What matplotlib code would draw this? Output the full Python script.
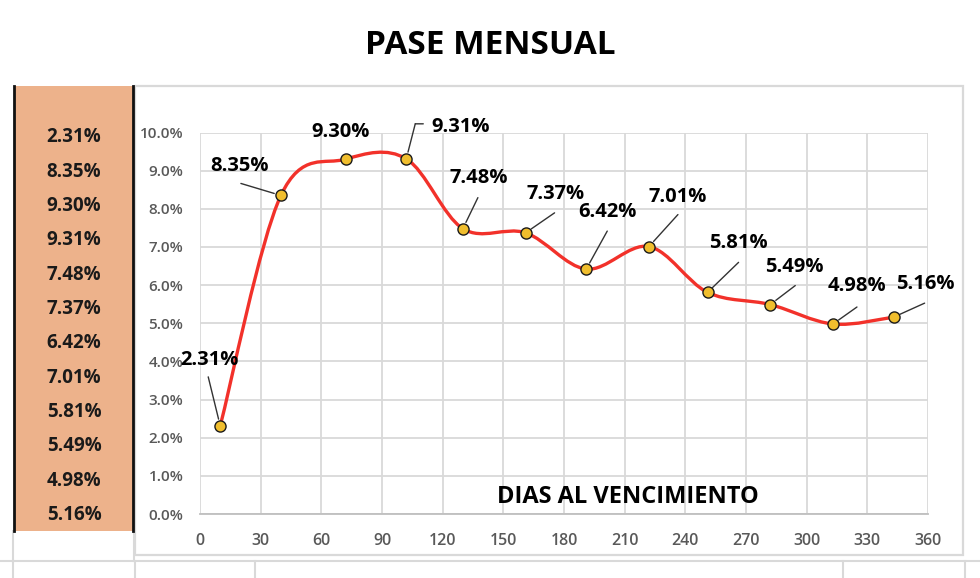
import numpy as np
import matplotlib
matplotlib.use('Agg')
import matplotlib.pyplot as plt
from matplotlib.path import Path
from matplotlib.patches import PathPatch, Rectangle
from matplotlib.lines import Line2D
from matplotlib.ticker import FuncFormatter
from matplotlib.transforms import offset_copy

# ---------------------------
# Datos
# ---------------------------
dias = [10, 40, 72, 102, 130, 161, 191, 222, 251, 282, 313, 343]
tasas = [2.31, 8.35, 9.30, 9.31, 7.48, 7.37, 6.42, 7.01, 5.81, 5.49, 4.98, 5.16]
x_ticks = list(range(0, 361, 30))
y_ticks = list(range(0, 11))
titulo = "PASE MENSUAL"
eje_x = "DIAS AL VENCIMIENTO"

# posicion de cada etiqueta respecto de su punto (pixeles)
label_offsets = [(-11, 66), (-41, 29), (-5, 27), (54, 32), (16, 51), (30, 39),
                 (21, 57), (29, 50), (31, 49), (24, 38), (24, 38), (32, 33)]
# inicio de la linea guia respecto del punto (None = sin guia)
guia_inicio = [(-12, 49), (-40, 12), None, (9, 35), (15, 31), (29, 20),
               (21, 38), (29, 32), (31, 30), (25, 19), (24, 17), (31, 14)]

plt.rcParams['font.family'] = ['Open Sans', 'DejaVu Sans']

W, H = 980, 578


def fx(px):
    return px / W


def fy(py):
    return 1 - py / H


# ---------------------------
# Curva suavizada (estilo Excel)
# ---------------------------
def smooth_path(x, y):
    pts = np.column_stack([x, y]).astype(float)
    n = len(pts)
    verts = [pts[0]]
    codes = [Path.MOVETO]
    for i in range(n - 1):
        p0 = pts[max(i - 1, 0)]
        p1 = pts[i]
        p2 = pts[i + 1]
        p3 = pts[min(i + 2, n - 1)]
        verts += [p1 + (p2 - p0) / 6, p2 - (p3 - p1) / 6, p2]
        codes += [Path.CURVE4] * 3
    return Path(verts, codes)


fig = plt.figure(figsize=(W / 100, H / 100), dpi=100)
fig.patch.set_facecolor('white')

# ---------------------------
# fondo tipo planilla
# ---------------------------
gris = '#D9D9D9'
fig.add_artist(Rectangle((fx(135), fy(555)), fx(963) - fx(135), fy(86) - fy(555),
                         transform=fig.transFigure, facecolor='white', edgecolor=gris,
                         lw=1.6, zorder=0))
fig.add_artist(Line2D([0, 1], [fy(561), fy(561)], transform=fig.transFigure, color=gris, lw=1.5))
for xv in [13, 135, 255, 843, 965]:
    fig.add_artist(Line2D([fx(xv), fx(xv)], [fy(561), fy(578)], transform=fig.transFigure,
                          color=gris, lw=1.5))
fig.add_artist(Line2D([fx(13), fx(13)], [fy(531), fy(561)], transform=fig.transFigure,
                      color=gris, lw=1.5))
fig.add_artist(Line2D([fx(134), fx(134)], [fy(531), fy(561)], transform=fig.transFigure,
                      color=gris, lw=1.5))

# columna naranja con los valores
fig.add_artist(Rectangle((fx(14), fy(531)), fx(134) - fx(14), fy(86) - fy(531),
                         transform=fig.transFigure, facecolor='#EDB28B', edgecolor='none',
                         zorder=1))
for xv in [14, 133]:
    fig.add_artist(Line2D([fx(xv), fx(xv)], [fy(531), fy(86)], transform=fig.transFigure,
                          color='#111111', lw=2.0, zorder=2))
for i, v in enumerate(tasas):
    fig.text(fx(74), fy(137.3 + 34.34 * i), f"{v:.2f}%", ha='center', va='center',
             fontsize=13.5, fontweight='bold', color='#1a1a1a', zorder=3)

fig.text(0.5, fy(45), titulo, ha='center', va='center', fontsize=24,
         fontweight='bold', color='black')

# ---------------------------
# grafico
# ---------------------------
ax = fig.add_axes([fx(200), fy(514), fx(928) - fx(200), fy(132.5) - fy(514)])
ax.set_facecolor('none')
ax.set_xlim(0, 360)
ax.set_ylim(0, 10)
ax.set_xticks(x_ticks)
ax.set_yticks(y_ticks)
ax.yaxis.set_major_formatter(FuncFormatter(lambda v, p: f"{v:.1f}%"))
ax.grid(True, color=gris, lw=1.3, zorder=0)
for s in ['top', 'right', 'left']:
    ax.spines[s].set_visible(False)
ax.spines['bottom'].set_color('#BFBFBF')
ax.spines['bottom'].set_linewidth(1.3)
ax.tick_params(axis='x', length=0, pad=14, labelsize=11.5, labelcolor='#595959')
ax.tick_params(axis='y', length=0, pad=12, labelsize=11, labelcolor='#595959')
for lab in ax.get_xticklabels() + ax.get_yticklabels():
    lab.set_fontweight('semibold')

ax.add_patch(PathPatch(smooth_path(dias, tasas), facecolor='none', edgecolor='#F2312A',
                       lw=2.4, zorder=3, capstyle='round'))
ax.plot(dias, tasas, 'o', ms=8, mfc='#F0BE2E', mec='#1a1a1a', mew=1.0, zorder=5)

guia = dict(arrowstyle='-', color='#333333', lw=1.0, shrinkA=0, shrinkB=5)
for d, v, off, g in zip(dias, tasas, label_offsets, guia_inicio):
    ax.annotate(f"{v:.2f}%", xy=(d, v), xytext=off, textcoords='offset pixels',
                ha='center', va='center', fontsize=14.5, fontweight='bold',
                color='black', zorder=6, annotation_clip=False)
    if g is not None:
        ax.annotate('', xy=(d, v), xytext=g, textcoords='offset pixels',
                    arrowprops=guia, zorder=4, annotation_clip=False)

# pequeno tramo horizontal de la guia de 9.31%
i931 = 3
tramo = offset_copy(ax.transData, fig=fig, x=9, y=35, units='dots')
ax.annotate('', xy=(dias[i931], tasas[i931]), xycoords=tramo, xytext=(8, 0),
            textcoords='offset pixels',
            arrowprops=dict(arrowstyle='-', color='#333333', lw=1.0, shrinkA=0, shrinkB=0),
            zorder=4, annotation_clip=False)

ax.text((628 - 200) / 728, (514 - 497) / 381.5, eje_x, transform=ax.transAxes,
        ha='center', va='center', fontsize=17, fontweight='bold', color='black')

fig.savefig('out.png', dpi=100, facecolor='white')
